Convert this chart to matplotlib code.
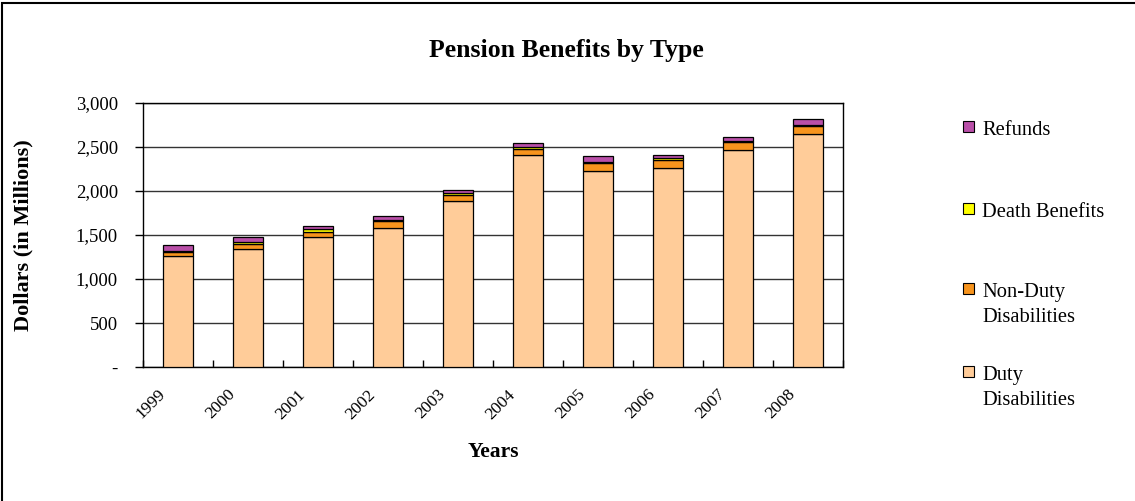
import matplotlib
matplotlib.use("Agg")
import matplotlib.pyplot as plt
from matplotlib.patches import Rectangle
import numpy as np

# Chart data (millions of dollars)
years = ["1999", "2000", "2001", "2002", "2003", "2004", "2005", "2006", "2007", "2008"]
duty = [1262, 1341, 1478, 1583, 1891, 2405, 2228, 2260, 2462, 2648]
non_duty = [45, 55, 58, 72, 68, 70, 92, 96, 100, 92]
death = [15, 22, 30, 19, 23, 24, 15, 15, 8, 15]
refunds = [62, 63, 36, 42, 34, 42, 58, 38, 44, 59]

series_names = ["Duty\nDisabilities", "Non-Duty\nDisabilities", "Death Benefits", "Refunds"]
series_colors = ["#FFCC99", "#F7941D", "#FFFF00", "#B94FA8"]
y_ticks = [0, 500, 1000, 1500, 2000, 2500, 3000]
y_tick_labels = ["-", "500", "1,000", "1,500", "2,000", "2,500", "3,000"]

plt.rcParams["font.family"] = ["Liberation Serif", "DejaVu Serif"]

W, H = 1135, 501
fig = plt.figure(figsize=(W / 100, H / 100), dpi=100)

# plot area in pixel coordinates
left, right, top, bottom = 143, 843, 103, 367
ax = fig.add_axes([left / W, 1 - bottom / H, (right - left) / W, (bottom - top) / H])

x = np.arange(len(years))
stack = [duty, non_duty, death, refunds]
base = np.zeros(len(years))
for vals, color in zip(stack, series_colors):
    ax.bar(x, vals, width=0.43, bottom=base, color=color, edgecolor="black",
           linewidth=0.9, zorder=3)
    base = base + np.array(vals)

ax.set_xlim(-0.5, len(years) - 0.5)
ax.set_ylim(0, 3000)
ax.set_yticks(y_ticks)
ax.set_yticklabels(y_tick_labels, fontsize=13.5)
ax.yaxis.grid(True, color="#333333", linewidth=1.0, zorder=0)
ax.set_xticks(np.arange(len(years) + 1) - 0.5, minor=False)
ax.set_xticklabels([""] * (len(years) + 1))
# year labels: the rotated text ends a little left of each bar centre
ax.set_xticks(x - 0.3, minor=True)
ax.set_xticklabels(years, minor=True, rotation=45, fontsize=12.5, ha="right",
                   rotation_mode="anchor")
ax.tick_params(axis="x", which="minor", length=0, pad=14)
ax.tick_params(axis="x", which="major", length=5, direction="in", width=1)
ax.tick_params(axis="y", length=6, direction="out", width=1, pad=12)
for s in ax.spines.values():
    s.set_linewidth(1.0)
    s.set_color("black")

ax.set_ylabel("Dollars (in Millions)", fontsize=16, fontweight="bold")
ax.yaxis.set_label_coords((33 - left) / (right - left), 0.5)
ax.set_xlabel("Years", fontsize=15.5, fontweight="bold", labelpad=14)

fig.text(566 / W, 1 - 51 / H, "Pension Benefits by Type", fontsize=18.5,
         fontweight="bold", ha="center", va="center")

# legend drawn by hand so the boxes line up with the first line of text
legend_rows = [("Refunds", series_colors[3], 127),
               ("Death Benefits", series_colors[2], 209),
               ("Non-Duty\nDisabilities", series_colors[1], 289),
               ("Duty\nDisabilities", series_colors[0], 372)]
for label, color, ypix in legend_rows:
    fig.patches.append(Rectangle((963 / W, 1 - (ypix + 5) / H), 11 / W, 11 / H,
                                 transform=fig.transFigure, facecolor=color,
                                 edgecolor="black", linewidth=0.8))
    fig.text(982 / W, 1 - (ypix - 6) / H, label, fontsize=14.8, ha="left",
             va="top", linespacing=1.45)

# outer chart border
fig.patches.append(Rectangle((2 / W, -0.05), 1.2, 1 - 3 / H + 0.05,
                             transform=fig.transFigure, fill=False,
                             edgecolor="black", linewidth=1.5))

fig.savefig("out.png", dpi=100)
